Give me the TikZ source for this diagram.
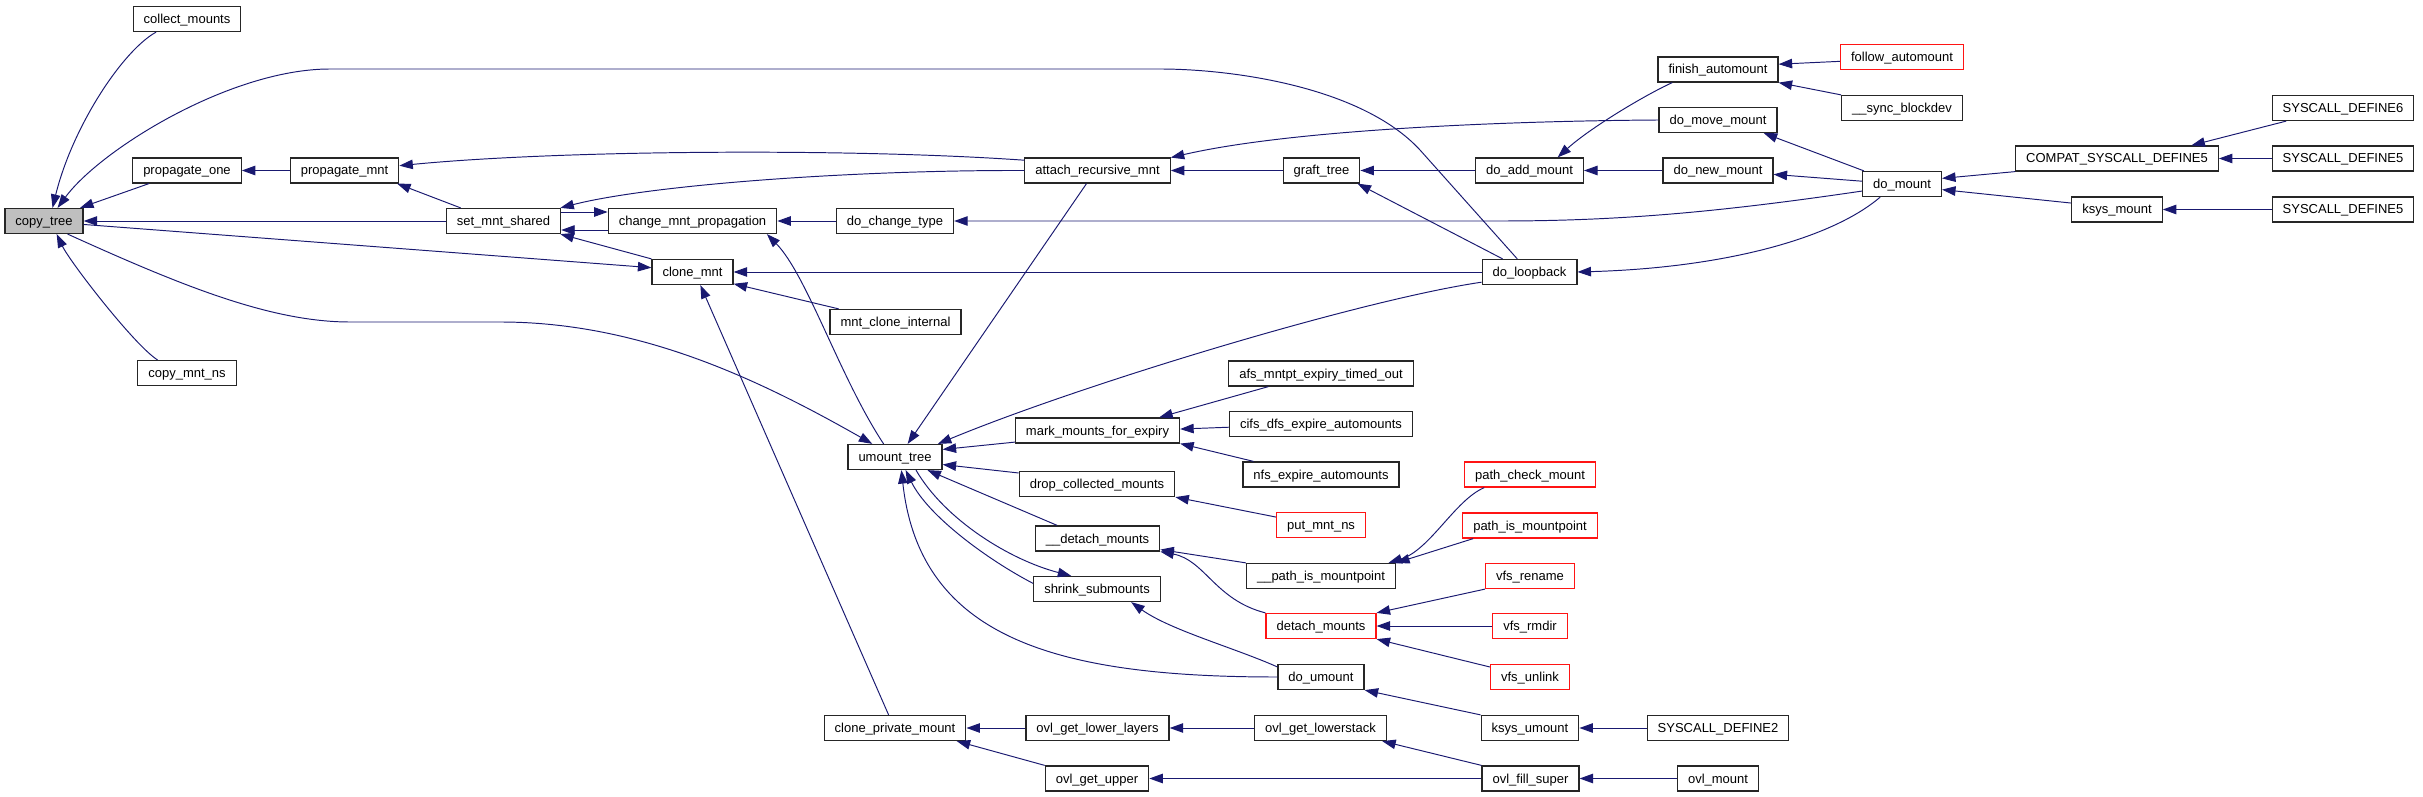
\documentclass[tikz,border=0pt]{standalone}
\usepackage{fontspec}
\setmainfont{Liberation Sans}
\usetikzlibrary{arrows.meta}
\definecolor{midnight}{RGB}{25,25,112}
\definecolor{boxgray}{RGB}{191,191,191}
\definecolor{boxred}{RGB}{255,20,20}

\begin{document}
\begin{tikzpicture}[x=0.02cm,y=0.02cm,
  fn/.style={draw=black!85,fill=white,line width=0.7pt,inner xsep=0.21cm,inner ysep=0pt,
    minimum height=0.5cm,text height=0.23cm,text depth=0.05cm,font=\fontsize{7.4}{9}\selectfont},
  fnred/.style={fn,draw=boxred},
  call/.style={midnight,line width=0.55pt,-{Triangle[length=0.27cm,width=0.19cm]}}]
\useasboundingbox (0,0) rectangle (2423,-797);

\node[fn,fill=boxgray] (copytree) at (44,-221) {copy\_tree};
\node[fn] (collectmounts) at (187,-19) {collect\_mounts};
\node[fn] (propagateone) at (187,-170.5) {propagate\_one};
\node[fn] (copymntns) at (187,-373) {copy\_mnt\_ns};
\node[fn] (propagatemnt) at (344.5,-170.5) {propagate\_mnt};
\node[fn] (setmntshared) at (503.5,-221) {set\_mnt\_shared};
\node[fn] (changemntprop) at (692.5,-221) {change\_mnt\_propagation};
\node[fn] (clonemnt) at (692.5,-272) {clone\_mnt};
\node[fn] (dochangetype) at (895,-221) {do\_change\_type};
\node[fn] (mntcloneinternal) at (895.5,-322) {mnt\_clone\_internal};
\node[fn] (umounttree) at (895,-457) {umount\_tree};
\node[fn] (cloneprivatemount) at (895,-728) {clone\_private\_mount};
\node[fn] (attachrecursive) at (1097.5,-170.5) {attach\_recursive\_mnt};
\node[fn] (markmounts) at (1097.5,-430.5) {mark\_mounts\_for\_expiry};
\node[fn] (dropcollected) at (1097,-484) {drop\_collected\_mounts};
\node[fn] (detachmountsint) at (1097.5,-538.5) {\_\_detach\_mounts};
\node[fn] (shrinksubmounts) at (1097,-589) {shrink\_submounts};
\node[fn] (ovllowerlayers) at (1097.5,-728) {ovl\_get\_lower\_layers};
\node[fn] (ovlgetupper) at (1097,-778.5) {ovl\_get\_upper};
\node[fn] (grafttree) at (1321.5,-170.5) {graft\_tree};
\node[fn] (afsexpiry) at (1321,-373.5) {afs\_mntpt\_expiry\_timed\_out};
\node[fn] (cifsexpire) at (1321,-424) {cifs\_dfs\_expire\_automounts};
\node[fn] (nfsexpire) at (1321,-474.5) {nfs\_expire\_automounts};
\node[fnred] (putmntns) at (1321,-525) {put\_mnt\_ns};
\node[fn] (pathismntint) at (1321,-576) {\_\_path\_is\_mountpoint};
\node[fnred] (detachmounts) at (1321,-626) {detach\_mounts};
\node[fn] (doumount) at (1321,-677) {do\_umount};
\node[fn] (ovllowerstack) at (1320.5,-728) {ovl\_get\_lowerstack};
\node[fn] (doaddmount) at (1529.5,-170.5) {do\_add\_mount};
\node[fn] (doloopback) at (1529.5,-272) {do\_loopback};
\node[fnred] (pathcheckmount) at (1530,-474.5) {path\_check\_mount};
\node[fnred] (pathismountpoint) at (1530,-525.5) {path\_is\_mountpoint};
\node[fnred] (vfsrename) at (1530,-576) {vfs\_rename};
\node[fnred] (vfsrmdir) at (1530,-626) {vfs\_rmdir};
\node[fnred] (vfsunlink) at (1530,-677) {vfs\_unlink};
\node[fn] (ksysumount) at (1530,-728) {ksys\_umount};
\node[fn] (ovlfillsuper) at (1530.5,-778.5) {ovl\_fill\_super};
\node[fn] (finishautomount) at (1718,-69.5) {finish\_automount};
\node[fn] (domovemount) at (1718,-120) {do\_move\_mount};
\node[fn] (donewmount) at (1718,-170.5) {do\_new\_mount};
\node[fn] (sysdef2) at (1718,-728) {SYSCALL\_DEFINE2};
\node[fn] (ovlmount) at (1718,-778.5) {ovl\_mount};
\node[fnred] (followautomount) at (1902,-57) {follow\_automount};
\node[fn] (syncblockdev) at (1902,-108) {\_\_sync\_blockdev};
\node[fn] (domount) at (1902,-184) {do\_mount};
\node[fn] (compatsysdef5) at (2117,-158.5) {COMPAT\_SYSCALL\_DEFINE5};
\node[fn] (ksysmount) at (2117,-209.5) {ksys\_mount};
\node[fn] (sysdef6) at (2343,-108) {SYSCALL\_DEFINE6};
\node[fn] (sysdef5a) at (2343,-158.5) {SYSCALL\_DEFINE5};
\node[fn] (sysdef5b) at (2343,-209.5) {SYSCALL\_DEFINE5};

% callers of copy_tree
\draw[call] (collectmounts.203) .. controls (122,-51) and (72,-128) .. (copytree.57);
\draw[call] (propagateone.199) -- (copytree.20);
\draw[call] (setmntshared.west) -- (copytree.east);
\draw[call] (copymntns.156) .. controls (135,-346) and (70,-262) .. (copytree.-46);
\draw[call] (doloopback.133) -- (1420,-150) .. controls (1361,-86) and (1230,-69) .. (1160,-69)
  -- (330,-69) .. controls (230,-69) and (100,-150) .. (copytree.44);
\draw[call] (copytree.-5) -- (clonemnt.174);
\draw[call] (copytree.-29) .. controls (180,-285) and (270,-322) .. (350,-322)
  -- (500,-322) .. controls (640,-322) and (760,-380) .. (umounttree.150);

% set_mnt_shared, clone_mnt
\draw[call] (setmntshared.163) -- (propagatemnt.-14.5);
\draw[call] (propagatemnt.west) -- (propagateone.east);
\draw[call] ([yshift=0.18cm]setmntshared.east) -- ([yshift=0.18cm]changemntprop.west);
\draw[call] ([yshift=-0.18cm]changemntprop.west) -- ([yshift=-0.18cm]setmntshared.east);
\draw[call] (clonemnt.north west) -- (setmntshared.-13);
\draw[call] (dochangetype.west) -- (changemntprop.east);
\draw[call] (umounttree.131) .. controls (840,-378) and (807,-275) .. (changemntprop.-10);
\draw[call] (doloopback.west) -- (clonemnt.east);
\draw[call] (mntcloneinternal.167) -- (clonemnt.-16);
\draw[call] (cloneprivatemount.116) -- (clonemnt.-59);

% attach_recursive_mnt, graft_tree
\draw[call] (attachrecursive.172) .. controls (850,-148) and (560,-150) .. (propagatemnt.5);
\draw[call] (attachrecursive.west) .. controls (850,-170) and (650,-185) .. (setmntshared.13.6);
\draw[call] (attachrecursive.230) -- (umounttree.46);
\draw[call] (grafttree.west) -- (attachrecursive.east);
\draw[call] (domovemount.west) .. controls (1500,-121) and (1290,-130) .. (attachrecursive.10.5);
\draw[call] (doaddmount.west) -- (grafttree.east);
\draw[call] (doloopback.154) -- (grafttree.-20.5);
\draw[call] (finishautomount.196) .. controls (1645,-95) and (1590,-128) .. (doaddmount.25);
\draw[call] (donewmount.west) -- (doaddmount.east);
\draw[call] (followautomount.184) -- (finishautomount.5);
\draw[call] (syncblockdev.north west) -- (finishautomount.south east);

% do_mount
\draw[call] (domount.161) -- (domovemount.-16.6);
\draw[call] (domount.176) -- (donewmount.-4.6);
\draw[call] (domount.190) .. controls (1720,-212) and (1620,-221) .. (1500,-221) -- (dochangetype.east);
\draw[call] (domount.211) .. controls (1830,-240) and (1720,-268) .. (doloopback.east);
\draw[call] (compatsysdef5.south west) -- (domount.8.6);
\draw[call] (ksysmount.172) -- (domount.-8.6);
\draw[call] (sysdef6.193) -- (compatsysdef5.10.7);
\draw[call] (sysdef5a.west) -- (compatsysdef5.east);
\draw[call] (sysdef5b.west) -- (ksysmount.east);

% umount_tree
\draw[call] (doloopback.192) .. controls (1360,-300) and (1080,-385) .. (umounttree.17.4);
\draw[call] (markmounts.188) -- (umounttree.9.7);
\draw[call] (dropcollected.172) -- (umounttree.-9.7);
\draw[call] (detachmountsint.162) -- (umounttree.-22);
\draw[call] (umounttree.-32) .. controls (945,-520) and (1010,-560) .. (shrinksubmounts.153.4);
\draw[call] (shrinksubmounts.175.5) .. controls (988,-560) and (928,-516) .. (umounttree.-51);
\draw[call] (doumount.west) .. controls (1060,-677) and (920,-640) .. (umounttree.-64);
\draw[call] (doumount.167) .. controls (1235,-648) and (1170,-630) .. (shrinksubmounts.-21.3);
\draw[call] (afsexpiry.194) -- (markmounts.12.3);
\draw[call] (cifsexpire.182) -- (markmounts.1);
\draw[call] (nfsexpire.169) -- (markmounts.-9.7);
\draw[call] (putmntns.170) -- (dropcollected.south east);
\draw[call] (pathismntint.north west) -- (detachmountsint.-10);
\draw[call] (detachmounts.north west) .. controls (1215,-600) and (1205,-560) .. (detachmountsint.south east);
\draw[call] (pathcheckmount.196) .. controls (1455,-500) and (1430,-550) .. (pathismntint.11.6);
\draw[call] (pathismountpoint.193.5) -- (pathismntint.north east);
\draw[call] (vfsrename.south west) -- (detachmounts.north east);
\draw[call] (vfsrmdir.west) -- (detachmounts.east);
\draw[call] (vfsunlink.166) -- (detachmounts.south east);
\draw[call] (ksysumount.north west) -- (doumount.south east);
\draw[call] (sysdef2.west) -- (ksysumount.east);

% overlayfs
\draw[call] (ovllowerlayers.west) -- (cloneprivatemount.east);
\draw[call] (ovllowerstack.west) -- (ovllowerlayers.east);
\draw[call] (ovlgetupper.north west) -- (cloneprivatemount.-12);
\draw[call] (ovlfillsuper.west) -- (ovlgetupper.east);
\draw[call] (ovlfillsuper.north west) -- (ovllowerstack.-12);
\draw[call] (ovlmount.west) -- (ovlfillsuper.east);
\end{tikzpicture}
\end{document}
